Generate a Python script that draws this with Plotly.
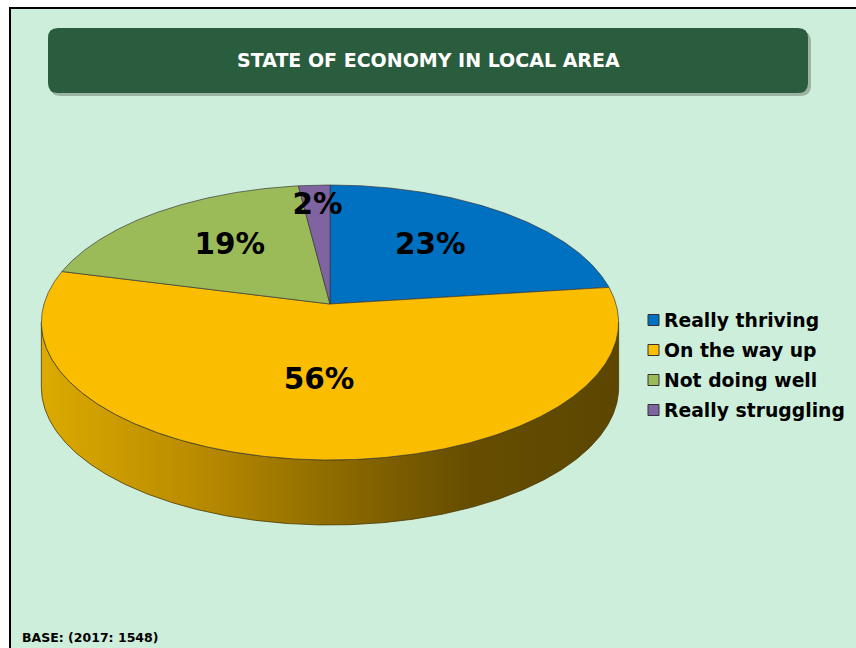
import numpy as np
import plotly.graph_objects as go

# ---- data -------------------------------------------------------------
categories = ["Really thriving", "On the way up", "Not doing well", "Really struggling"]
shares = [23, 56, 19, 2]
slice_colors = ["#0070c0", "#fbbd00", "#9bbb59", "#8064a2"]
title_text = "STATE OF ECONOMY IN LOCAL AREA"
base_note = "BASE: (2017: 1548)"

# ---- canvas / pie geometry (pixel space) ------------------------------
W, H = 856, 648
CX, CY = 330, 304        # pie apex
RX, RY = 286, 135        # disc radii before perspective
DEPTH = 7.43             # perspective distance (in disc radii)
THICK = 65               # height of the pie wall
FONT = "DejaVu Sans"
BG = "#cdeedb"


def project(theta_deg, r=1.0, drop=0.0):
    """Clockwise angle from 12 o'clock on the tilted disc -> pixel coords."""
    t = np.radians(theta_deg)
    u = r * np.sin(t)
    v = -r * np.cos(t)
    s = DEPTH / (DEPTH - v)
    return CX + RX * u * s, CY + RY * v * s + drop


fig = go.Figure()

# ---- front wall of the pie (silhouette to silhouette) -----------------
sweep = np.linspace(0, 360, 3601)
sx, _ = project(sweep)
t_right = sweep[np.argmax(sx)]
t_left = sweep[np.argmin(sx)]
wall = np.linspace(t_right, t_left, 400)
tx, ty = project(wall)
bx, by = project(wall[::-1], drop=THICK)
fig.add_trace(go.Scatter(
    x=np.concatenate([tx, bx, tx[:1]]),
    y=np.concatenate([ty, by, ty[:1]]),
    mode="lines", fill="toself",
    fillgradient=dict(type="horizontal", colorscale=[
        [0.0, "#dcaa00"], [0.27, "#b98b00"], [0.5, "#8f6c00"],
        [0.74, "#664d00"], [1.0, "#5c4600"]]),
    line=dict(color="#4a3800", width=0.8),
    hoverinfo="skip", showlegend=False))

# ---- top face slices ---------------------------------------------------
total = float(sum(shares))
start = 0.0
label_x, label_y, label_txt = [], [], []
for name, val, col in zip(categories, shares, slice_colors):
    span = 360.0 * val / total
    arc = np.linspace(start, start + span, max(int(span * 3), 8))
    ax_, ay_ = project(arc)
    fig.add_trace(go.Scatter(
        x=np.concatenate([[CX], ax_, [CX]]),
        y=np.concatenate([[CY], ay_, [CY]]),
        mode="lines", fill="toself", fillcolor=col,
        line=dict(color="rgba(55,55,55,0.85)", width=0.8),
        name=name, hoverinfo="skip", showlegend=False))
    mid = start + span / 2
    lx, ly = project(mid, r=0.56 if val >= 5 else 0.76)
    label_x.append(lx)
    label_y.append(ly - 4)   # text box sits a little low; lift to the glyph centre
    label_txt.append(f"{val}%")
    start += span

fig.add_trace(go.Scatter(
    x=label_x, y=label_y, text=label_txt, mode="text",
    textposition="middle center",
    textfont=dict(family=FONT, size=29.5, color="#000000", weight="bold"),
    hoverinfo="skip", showlegend=False))


def rounded_rect(x0, y0, x1, y1, r):
    return (f"M{x0 + r},{y0} L{x1 - r},{y0} Q{x1},{y0} {x1},{y0 + r} "
            f"L{x1},{y1 - r} Q{x1},{y1} {x1 - r},{y1} L{x0 + r},{y1} "
            f"Q{x0},{y1} {x0},{y1 - r} L{x0},{y0 + r} Q{x0},{y0} {x0 + r},{y0} Z")


shapes = [
    # chart area
    dict(type="rect", xref="x", yref="y", x0=10, y0=8, x1=W + 2, y1=H + 2,
         fillcolor=BG, line=dict(color="#000000", width=2), layer="below"),
    # title banner shadow + banner
    dict(type="path", xref="x", yref="y", path=rounded_rect(50, 31, 811, 96, 11),
         fillcolor="rgba(60,70,60,0.35)", line=dict(width=0), layer="below"),
    dict(type="path", xref="x", yref="y", path=rounded_rect(48, 28, 808, 93, 10),
         fillcolor="#2a5c3e", line=dict(width=0), layer="below"),
]

annotations = [
    dict(x=428, y=60, xref="x", yref="y", text=title_text, showarrow=False,
         xanchor="center", yanchor="middle",
         font=dict(family=FONT, size=19, color="#ffffff", weight="bold")),
    dict(x=20, y=637, xref="x", yref="y", text=base_note, showarrow=False,
         xanchor="left", yanchor="middle",
         font=dict(family=FONT, size=12.5, color="#000000", weight="bold")),
]

# ---- legend (swatch + label per category) ------------------------------
for i, (name, col) in enumerate(zip(categories, slice_colors)):
    yc = 320 + 30 * i
    shapes.append(dict(type="rect", xref="x", yref="y", x0=648, x1=659,
                       y0=yc - 5.5, y1=yc + 5.5, fillcolor=col,
                       line=dict(color="#333333", width=1)))
    annotations.append(dict(x=662, y=yc, xref="x", yref="y", text=name,
                            showarrow=False, xanchor="left", yanchor="middle",
                            font=dict(family=FONT, size=18.8, color="#000000",
                                      weight="bold")))

fig.update_layout(
    width=W, height=H, margin=dict(l=0, r=0, t=0, b=0),
    paper_bgcolor="#ffffff", plot_bgcolor="rgba(0,0,0,0)",
    xaxis=dict(range=[0, W], visible=False, fixedrange=True),
    yaxis=dict(range=[H, 0], visible=False, fixedrange=True),
    shapes=shapes, annotations=annotations, showlegend=False,
)

fig.write_html("out.html")
